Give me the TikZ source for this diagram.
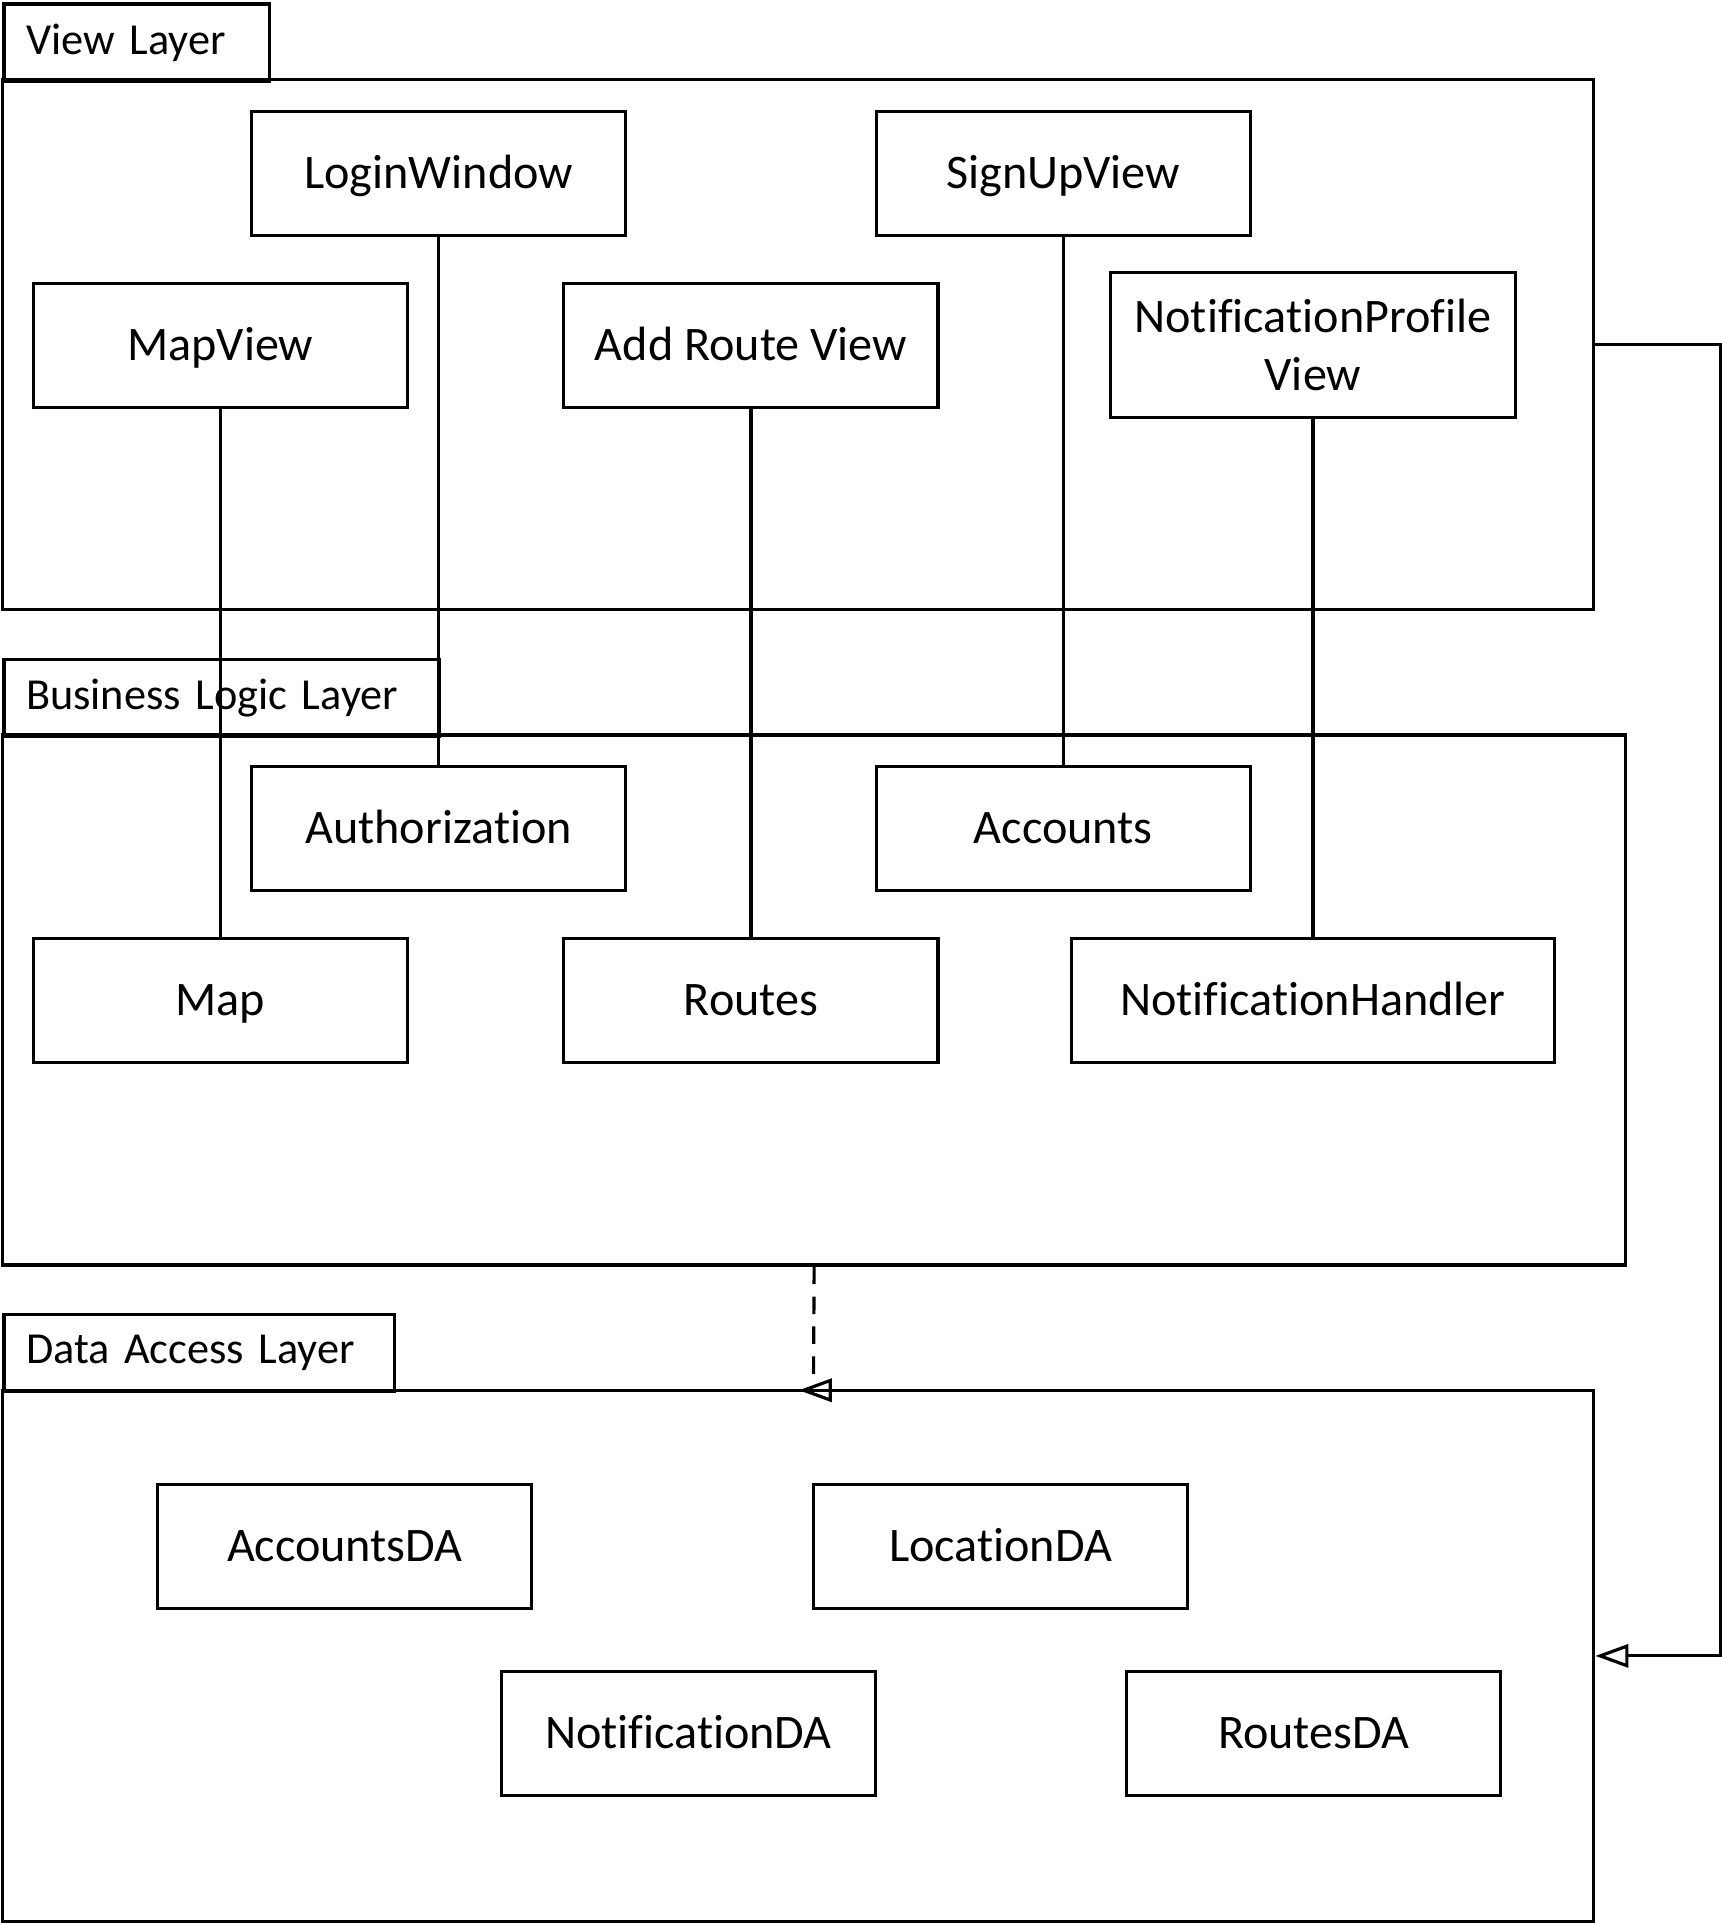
\documentclass[tikz,border=0pt]{standalone}
\usepackage{fontspec}
\setmainfont{Carlito}[RawFeature={-liga;-clig;-calt;-dlig}]
\usetikzlibrary{positioning,calc,arrows.meta}
\tikzset{font=\fontsize{13.7}{16.5}\selectfont}

\begin{document}
\begin{tikzpicture}[x=0.012267cm, y=-0.012267cm]
	\tikzstyle{every node}=[align=center, inner sep=1pt]
	\tikzstyle{clsbox}=[draw, line width=0.9pt, minimum width=3.741cm, minimum height=1.239cm]
	\tikzstyle{cls}=[clsbox, text height=11pt, text depth=2.4pt]
	\tikzstyle{layer}=[draw, line width=0.9pt, minimum height=5.299cm]
	\tikzstyle{tab}=[draw, line width=0.9pt, anchor=north west, minimum height=0.773cm, inner xsep=0.22cm, align=left, font=\fontsize{12.6}{15}\selectfont]
	\tikzstyle{link}=[line width=0.9pt]
	\tikzstyle{realize}=[line width=0.9pt, -{Triangle[open, length=9.4pt, width=6.6pt]}]
	\useasboundingbox (0,0) rectangle (1403,1568);

	% layers
	\node[layer, minimum width=15.910cm] (view) at (650.5, 281) {};
	\node[tab, text width=2.21cm] (viewtab) at (2, 2) {View Layer};
	\node[layer, minimum width=16.229cm] (bll) at (663.5, 815) {};
	\node[tab, text width=3.915cm] (blltab) at (2, 536) {Business Logic Layer};
	\node[layer, minimum width=15.910cm, minimum height=5.312cm] (dal) at (650.5, 1349.5) {};
	\node[tab, text width=3.461cm] (daltab) at (2, 1070) {Data Access Layer};

	% view layer
	\node[cls] (login) at (357.5, 141.5) {LoginWindow};
	\node[cls] (signup) at (866.5, 141.5) {SignUpView};
	\node[cls] (mapview) at (179.5, 281.5) {MapView};
	\node[cls] (addroute) at (612, 281.5) {Add Route View};
	\node[clsbox, minimum width=4.048cm, minimum height=1.447cm] (notifview) at (1070, 281) {NotificationProfile\\View};

	% business logic layer
	\node[cls] (auth) at (357.5, 675.5) {Authorization};
	\node[cls] (accounts) at (866.5, 675.5) {Accounts};
	\node[cls] (map) at (179.5, 815.5) {Map};
	\node[cls] (routes) at (612, 815.5) {Routes};
	\node[cls, minimum width=4.833cm] (notifhandler) at (1070, 815.5) {NotificationHandler};

	% data access layer
	\node[cls] (accountsda) at (281, 1260.5) {AccountsDA};
	\node[cls] (locationda) at (815.5, 1260.5) {LocationDA};
	\node[cls] (notifda) at (561, 1413) {NotificationDA};
	\node[cls] (routesda) at (1070.5, 1413) {RoutesDA};

	\draw [link] (login) to (auth);
	\draw [link] (signup) to (accounts);
	\draw [link] (mapview) to (map);
	\draw [link] (addroute) to (routes);
	\draw [link] (notifview.south) to (notifhandler.north);

	\coordinate (dend) at (663, 1124);
	\coordinate (dtip) at (651, 1133);
	\draw [link, dash pattern=on 5pt off 3.5pt] (bll.south) to (dend);
	\draw [realize] ($(dtip)+(28,0)$) to (dtip);
	\draw [realize] (view.east) -- ++(102,0) |- (dal.east);
\end{tikzpicture}
\end{document}
